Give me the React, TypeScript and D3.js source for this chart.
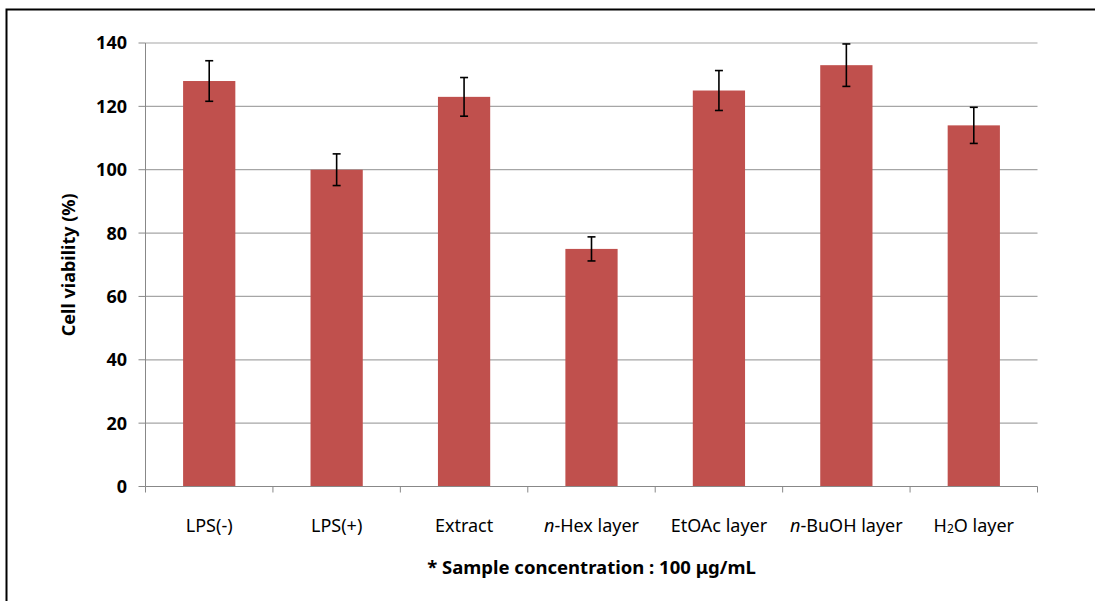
import React from "react";
import * as d3 from "d3";

const categories = ["LPS(-)", "LPS(+)", "Extract", "n-Hex layer", "EtOAc layer", "n-BuOH layer", "H2O layer"];
const values = [128, 100, 123, 75, 125, 133, 114];
const errors = [6.4, 5, 6.1, 3.8, 6.3, 6.7, 5.7];
const yTicks = [0, 20, 40, 60, 80, 100, 120, 140];

const W = 1095;
const H = 601;
const margin = { left: 145.5, right: W - 1037.5, top: 43, bottom: H - 486.5 };
const FONT = "'Noto Sans', 'Open Sans', sans-serif";
const LABEL_SIZE = 18;

function CatLabel({ name, x, y }: { name: string; x: number; y: number }) {
  if (name.startsWith("n-")) {
    return (
      <text x={x} y={y} textAnchor="middle" fontSize={LABEL_SIZE} fontFamily={FONT} fill="#000">
        <tspan fontStyle="italic">n</tspan>
        <tspan>{name.slice(1)}</tspan>
      </text>
    );
  }
  if (name === "H2O layer") {
    return (
      <text x={x} y={y} textAnchor="middle" fontSize={LABEL_SIZE} fontFamily={FONT} fill="#000">
        <tspan>H</tspan>
        <tspan fontSize={12} dy={1}>2</tspan>
        <tspan dy={-1}>O layer</tspan>
      </text>
    );
  }
  return (
    <text x={x} y={y} textAnchor="middle" fontSize={LABEL_SIZE} fontFamily={FONT} fill="#000">
      {name}
    </text>
  );
}

export default function App() {
  const x = d3
    .scaleBand<string>()
    .domain(categories)
    .range([margin.left, W - margin.right])
    .paddingInner(0.59)
    .paddingOuter(0.295);
  const y = d3.scaleLinear().domain([0, 140]).range([H - margin.bottom, margin.top]);
  const step = x.step();
  const bounds = d3.range(categories.length + 1).map((i) => margin.left + i * step);
  const x0 = margin.left;
  const x1 = W - margin.right;
  const yBase = y(0);

  return (
    <svg
      width={W}
      height={H}
      style={{ position: "absolute", left: 0, top: 0, background: "#fff" }}
    >
      <rect x={0} y={0} width={W} height={H} fill="#fff" />
      <rect x={6.5} y={9.5} width={W + 20} height={H + 20} fill="none" stroke="#000" strokeWidth={2} />

      {/* gridlines */}
      {yTicks
        .filter((t) => t > 0)
        .map((t) => (
          <line key={"g" + t} x1={x0} x2={x1} y1={y(t)} y2={y(t)} stroke="#a6a6a6" strokeWidth={1.2} />
        ))}

      {/* bars */}
      {categories.map((c, i) => (
        <rect
          key={c}
          x={x(c)!}
          y={y(values[i])}
          width={x.bandwidth()}
          height={yBase - y(values[i])}
          fill="#C0504D"
        />
      ))}

      {/* error bars */}
      {categories.map((c, i) => {
        const cx = x(c)! + x.bandwidth() / 2;
        const top = y(values[i] + errors[i]);
        const bot = y(values[i] - errors[i]);
        return (
          <g key={"e" + c} stroke="#000" strokeWidth={1.6}>
            <line x1={cx} x2={cx} y1={top} y2={bot} />
            <line x1={cx - 4} x2={cx + 4} y1={top} y2={top} />
            <line x1={cx - 4} x2={cx + 4} y1={bot} y2={bot} />
          </g>
        );
      })}

      {/* y axis */}
      <line x1={x0} x2={x0} y1={y(140)} y2={yBase} stroke="#888" strokeWidth={1} />
      {yTicks.map((t) => (
        <g key={"t" + t}>
          <line x1={x0 - 7} x2={x0} y1={y(t)} y2={y(t)} stroke="#888" strokeWidth={1} />
          <text
            x={127}
            y={y(t)}
            dy="0.36em"
            textAnchor="end"
            fontSize={18}
            fontWeight={700}
            fontFamily={FONT}
            fill="#000"
          >
            {t}
          </text>
        </g>
      ))}

      {/* x axis */}
      <line x1={x0} x2={x1} y1={yBase} y2={yBase} stroke="#888" strokeWidth={1} />
      {bounds.map((b, i) => (
        <line key={"xt" + i} x1={b} x2={b} y1={yBase} y2={yBase + 6} stroke="#888" strokeWidth={1} />
      ))}
      {categories.map((c) => (
        <CatLabel key={"l" + c} name={c} x={x(c)! + x.bandwidth() / 2} y={532} />
      ))}

      {/* y title */}
      <text
        transform={`translate(75, ${(y(140) + yBase) / 2}) rotate(-90)`}
        textAnchor="middle"
        fontSize={18}
        fontWeight={700}
        fontFamily={FONT}
        fill="#000"
      >
        Cell viability (%)
      </text>

      {/* footnote */}
      <text
        x={(x0 + x1) / 2}
        y={574}
        textAnchor="middle"
        fontSize={18.5}
        fontWeight={700}
        fontFamily={FONT}
        fill="#000"
      >
        * Sample concentration : 100 μg/mL
      </text>
    </svg>
  );
}
